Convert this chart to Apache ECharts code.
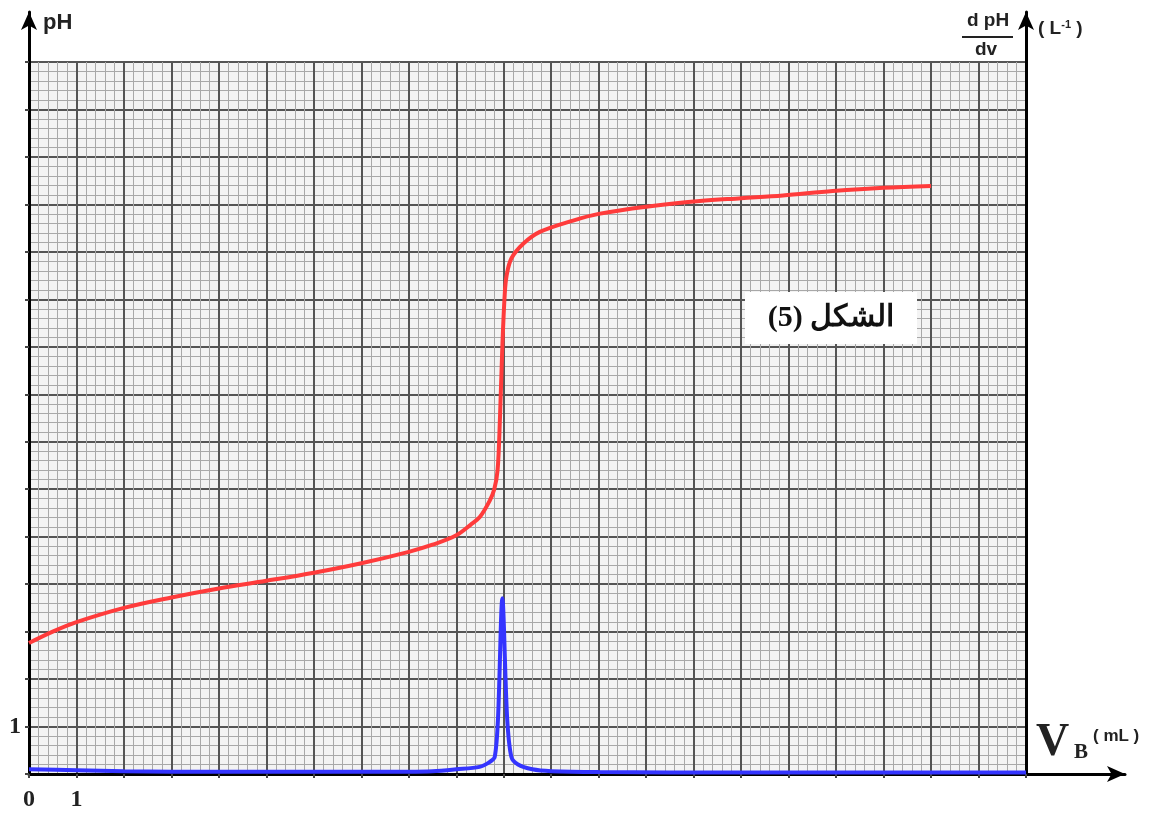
<!DOCTYPE html>
<html>
<head>
<meta charset="utf-8">
<script src="https://cdn.jsdelivr.net/npm/echarts@6/dist/echarts.min.js"></script>
<style>
  html, body { margin: 0; padding: 0; background: #fff; }
  #chart { width: 1158px; height: 819px; }
</style>
</head>
<body>
<div id="chart"></div>
<script>
// pH curve (red)
var vbRed = [0, 0.5, 1, 2, 3, 4, 5, 6, 7, 8, 8.5, 9, 9.3, 9.5, 9.7, 9.8, 9.87, 9.92, 9.97, 10.02, 10.06, 10.16, 10.41, 10.76, 11.46, 12, 13, 14.13, 15, 15.88, 16.93, 18, 19];
var phValues = [2.76, 3.0, 3.2, 3.5, 3.72, 3.91, 4.07, 4.24, 4.44, 4.68, 4.83, 5.03, 5.25, 5.42, 5.75, 6.0, 6.4, 7.5, 9.0, 10.1, 10.5, 10.86, 11.17, 11.42, 11.66, 11.8, 11.95, 12.07, 12.13, 12.19, 12.28, 12.35, 12.39];

// dpH/dv curve (blue)
var vbBlue = [0, 1, 2, 3, 5, 8, 8.5, 9, 9.49, 9.7, 9.81, 9.88, 9.97, 10.07, 10.16, 10.3, 10.6, 11, 12, 15, 21];
var dphValues = [0.1, 0.08, 0.06, 0.05, 0.05, 0.05, 0.06, 0.1, 0.15, 0.25, 0.36, 1.2, 3.7, 1.2, 0.36, 0.2, 0.1, 0.06, 0.04, 0.03, 0.03];

var xLabels = [0, 1];
var yLabels = [1];

function pairs(xs, ys) {
    var out = [];
    for (var i = 0; i < xs.length; i++) {
        out.push([xs[i], ys[i]]);
    }
    return out;
}

var serif = "'Liberation Serif', 'DejaVu Serif', serif";
var sans = "'Liberation Sans', Arial, sans-serif";

var chart = echarts.init(document.getElementById('chart'));

var option = {
    backgroundColor: '#fff',
    animation: false,
    grid: [
        // graph paper
        { left: 29, right: 132, top: 62, bottom: 45, show: true, backgroundColor: '#f3f3f3', borderWidth: 0 },
        // extended vertical axes with arrows
        { left: 29, right: 132, top: 12, bottom: 45 },
        // extended horizontal axis with arrow
        { left: 29, right: 33, top: 12, bottom: 45 }
    ],
    xAxis: [
        {
            gridIndex: 0, type: 'value', min: 0, max: 21, interval: 1,
            axisLine: { show: false },
            axisTick: { show: true, length: 4, lineStyle: { color: '#444', width: 2 } },
            minorTick: { show: false, splitNumber: 5 },
            splitLine: { show: true, lineStyle: { color: '#555', width: 2 } },
            minorSplitLine: { show: true, lineStyle: { color: '#a8a8a8', width: 1 } },
            axisLabel: {
                margin: 14,
                color: '#222',
                fontFamily: serif,
                fontWeight: 'bold',
                fontSize: 24,
                formatter: function (v) { return xLabels.indexOf(v) >= 0 ? String(v) : ''; }
            }
        },
        { gridIndex: 1, type: 'value', min: 0, max: 21, show: false },
        {
            gridIndex: 2, type: 'value', min: 0, max: 1,
            axisLine: { show: true, symbol: ['none', 'arrow'], symbolSize: [12, 18], lineStyle: { color: '#000', width: 3 } },
            axisTick: { show: false }, axisLabel: { show: false }, splitLine: { show: false }
        }
    ],
    yAxis: [
        {
            gridIndex: 0, type: 'value', min: 0, max: 15, interval: 1,
            axisLine: { show: false },
            axisTick: { show: true, length: 4, lineStyle: { color: '#444', width: 2 } },
            minorTick: { show: false, splitNumber: 5 },
            splitLine: { show: true, lineStyle: { color: '#555', width: 2 } },
            minorSplitLine: { show: true, lineStyle: { color: '#a8a8a8', width: 1 } },
            axisLabel: {
                margin: 8,
                color: '#222',
                fontFamily: serif,
                fontWeight: 'bold',
                fontSize: 24,
                formatter: function (v) { return yLabels.indexOf(v) >= 0 ? String(v) : ''; }
            }
        },
        {
            gridIndex: 1, type: 'value', min: 0, max: 1, position: 'left',
            axisLine: { show: true, symbol: ['none', 'arrow'], symbolSize: [12, 18], lineStyle: { color: '#000', width: 3 } },
            axisTick: { show: false }, axisLabel: { show: false }, splitLine: { show: false }
        },
        {
            gridIndex: 1, type: 'value', min: 0, max: 1, position: 'right',
            axisLine: { show: true, symbol: ['none', 'arrow'], symbolSize: [12, 18], lineStyle: { color: '#000', width: 3 } },
            axisTick: { show: false }, axisLabel: { show: false }, splitLine: { show: false }
        },
        { gridIndex: 2, type: 'value', min: 0, max: 1, show: false }
    ],
    series: [
        {
            type: 'line',
            name: 'pH',
            xAxisIndex: 0, yAxisIndex: 0,
            data: pairs(vbRed, phValues),
            showSymbol: false,
            smooth: 0.35,
            lineStyle: { color: '#ff3b3b', width: 4 },
            z: 5
        },
        {
            type: 'line',
            name: 'dpH/dv',
            xAxisIndex: 0, yAxisIndex: 0,
            data: pairs(vbBlue, dphValues),
            showSymbol: false,
            smooth: 0.3,
            lineStyle: { color: '#3434ff', width: 4 },
            z: 5
        }
    ],
    graphic: [
        { type: 'text', left: 43, top: 12, style: { text: 'pH', font: 'bold 22px ' + sans, fill: '#222' } },
        { type: 'text', x: 988, y: 21, style: { text: 'd pH', font: 'bold 19px ' + sans, fill: '#222', textAlign: 'center', textVerticalAlign: 'middle' } },
        { type: 'line', shape: { x1: 962, y1: 37, x2: 1013, y2: 37 }, style: { stroke: '#222', lineWidth: 2 } },
        { type: 'text', x: 986, y: 50, style: { text: 'dv', font: 'bold 19px ' + sans, fill: '#222', textAlign: 'center', textVerticalAlign: 'middle' } },
        {
            type: 'text', x: 1038, y: 29,
            style: {
                text: '{p|( L}{s|-1}{p| )}',
                textVerticalAlign: 'middle',
                rich: {
                    p: { font: 'bold 19px ' + sans, fill: '#222' },
                    s: { font: 'bold 11px ' + sans, fill: '#222', verticalAlign: 'top', padding: [0, 0, 8, 0] }
                }
            }
        },
        { type: 'text', x: 1036, y: 743, style: { text: 'V', font: 'bold 46px ' + serif, fill: '#222', textVerticalAlign: 'middle' } },
        { type: 'text', x: 1074, y: 753, style: { text: 'B', font: 'bold 21px ' + serif, fill: '#222', textVerticalAlign: 'middle' } },
        { type: 'text', x: 1093, y: 736, style: { text: '( mL )', font: 'bold 17px ' + sans, fill: '#222', textVerticalAlign: 'middle' } },
        { type: 'rect', shape: { x: 745, y: 292, width: 172, height: 52 }, style: { fill: '#fff' }, z: 10 },
        {
            type: 'text', x: 831, y: 318, z: 11,
            style: {
                text: '\u202Bالشكل (5)\u202C',
                font: 'bold 30px ' + serif,
                fill: '#111',
                textAlign: 'center',
                textVerticalAlign: 'middle'
            }
        }
    ]
};

chart.setOption(option);
</script>
</body>
</html>
